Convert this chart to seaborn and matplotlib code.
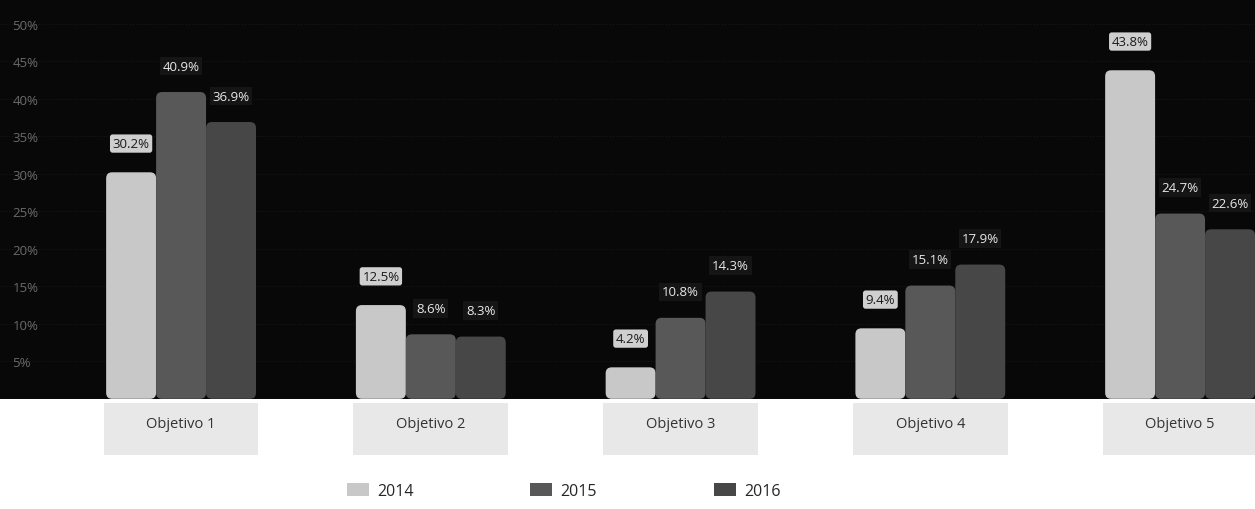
import numpy as np
import pandas as pd
import seaborn as sns
import matplotlib.pyplot as plt
from matplotlib.patches import Rectangle, FancyBboxPatch
import matplotlib.transforms as mtransforms

# Data
objetivos = ["Objetivo 1", "Objetivo 2", "Objetivo 3", "Objetivo 4", "Objetivo 5"]
years = ["2014", "2015", "2016"]
vals_2014 = [30.2, 12.5, 4.2, 9.4, 43.8]
vals_2015 = [40.9, 8.6, 10.8, 15.1, 24.7]
vals_2016 = [36.9, 8.3, 14.3, 17.9, 22.6]
y_ticks = [5, 10, 15, 20, 25, 30, 35, 40, 45, 50]

colors = ["#c8c8c8", "#585858", "#474747"]

df = pd.DataFrame({
    "objetivo": objetivos * 3,
    "year": [y for y in years for _ in objetivos],
    "value": vals_2014 + vals_2015 + vals_2016,
})

sns.set_style("dark")
plt.rcParams['font.family'] = ['Open Sans', 'DejaVu Sans']

fig = plt.figure(figsize=(12.55, 5.10), dpi=100)
fig.patch.set_facecolor("white")
ax = fig.add_axes([0, 0.216, 1, 0.784])
ax.set_facecolor("#080808")

sns.barplot(data=df, x="objetivo", y="value", hue="year", palette=colors,
            width=0.6, gap=0, saturation=1, linewidth=0, ax=ax, legend=True)

ax.set_xlim(-0.725, 4.30)
ax.set_ylim(0, 53.3)
ax.set_xlabel("")
ax.set_ylabel("")

# rounded bar corners (x/y scales differ, so correct with mutation_aspect)
px_x = fig.get_figwidth() * fig.dpi / (4.30 + 0.725)
px_y = fig.get_figheight() * fig.dpi * 0.784 / 53.3
for cont in ax.containers:
    for bar in cont:
        x, y = bar.get_xy()
        w, h = bar.get_width(), bar.get_height()
        fb = FancyBboxPatch((x, y), w, h,
                            boxstyle=f"round,pad=0,rounding_size={6 / px_x}",
                            mutation_aspect=px_x / px_y,
                            facecolor=bar.get_facecolor(), edgecolor="none",
                            zorder=bar.get_zorder())
        bar.set_visible(False)
        ax.add_patch(fb)

# y ticks drawn inside the plot
ax.set_yticks(y_ticks)
ax.set_yticklabels([f"{t}%" for t in y_ticks])
ax.tick_params(axis="y", pad=-9, length=0, labelsize=9.5, labelcolor="#6a6a6a")
for lbl in ax.get_yticklabels():
    lbl.set_horizontalalignment("left")
ax.grid(axis="y", color="#181818", linestyle=":", linewidth=0.8)
ax.grid(axis="x", visible=False)
for s in ax.spines.values():
    s.set_visible(False)

# category label boxes under the axis
ax.tick_params(axis="x", length=0, pad=12, labelsize=10.5, labelcolor="#333333")
trans = mtransforms.blended_transform_factory(ax.transData, ax.transAxes)
for i in range(len(objetivos)):
    ax.add_patch(Rectangle((i - 0.31, -0.14), 0.62, 0.13, transform=trans,
                           facecolor="#e8e8e8", edgecolor="none", clip_on=False, zorder=0))

# value labels
for k, cont in enumerate(ax.containers):
    if k == 0:
        ax.bar_label(cont, labels=[f"{v}%" for v in vals_2014], padding=16,
                     fontsize=9.5, color="#1a1a1a",
                     bbox=dict(boxstyle="round,pad=0.2", fc="#cfcfcf", ec="none"))
    else:
        vals = vals_2015 if k == 1 else vals_2016
        ax.bar_label(cont, labels=[f"{v}%" for v in vals], padding=14,
                     fontsize=9.5, color="#e8e8e8",
                     bbox=dict(boxstyle="square,pad=0.2", fc="#151515", ec="none"))

# legend
handles, labels = ax.get_legend_handles_labels()
ax.get_legend().remove()
for hd in handles:
    hd.set_edgecolor("none")
fig.legend(handles, labels, loc="center", bbox_to_anchor=(0.449, 0.035), ncol=3,
           frameon=False, fontsize=11.5, columnspacing=7.3, handlelength=1.4,
           handleheight=0.9, handletextpad=0.5)

plt.savefig("out.png", dpi=100)
